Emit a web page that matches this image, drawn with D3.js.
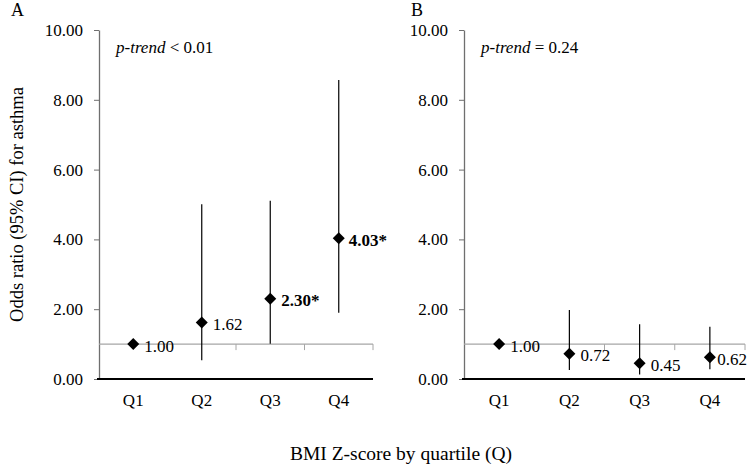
<!DOCTYPE html>
<html>
<head>
<meta charset="utf-8">
<script src="https://cdn.jsdelivr.net/npm/d3@7"></script>
<style>
  body { margin: 0; background: #fff; }
  svg { display: block; font-family: "Liberation Serif", "Times New Roman", serif; }
</style>
</head>
<body>
<div id="chart"></div>
<script>
// values
const quartiles = ["Q1", "Q2", "Q3", "Q4"];
const yTicks = [0, 2, 4, 6, 8, 10];

const orA = [1.00, 1.62, 2.30, 4.03];
const lowA = [1.00, 0.54, 1.01, 1.90];
const highA = [1.00, 5.01, 5.11, 8.57];
const labelsA = ["1.00", "1.62", "2.30*", "4.03*"];
const boldA = [false, false, true, true];

const orB = [1.00, 0.72, 0.45, 0.62];
const lowB = [1.00, 0.26, 0.13, 0.28];
const highB = [1.00, 1.98, 1.57, 1.50];
const labelsB = ["1.00", "0.72", "0.45", "0.62"];
const boldB = [false, false, false, false];

const panelNames = ["A", "B"];
const pTrends = ["< 0.01", "= 0.24"];

const width = 748, height = 465;
const svg = d3.select("#chart").append("svg")
    .attr("width", width)
    .attr("height", height);

const y = d3.scaleLinear().domain([0, 10]).range([379, 30]);

function drawPanel(opts) {
    const g = svg.append("g");
    const x = d3.scaleBand().domain(quartiles).range([opts.left, opts.right]);
    const rows = quartiles.map((q, i) => ({
        q: q, or: opts.or[i], lo: opts.low[i], hi: opts.high[i],
        label: opts.labels[i], bold: opts.bold[i]
    }));

    // panel letter
    g.append("text")
        .attr("x", opts.letterX).attr("y", 16)
        .style("font-size", "18px")
        .text(opts.name);

    // y axis
    const yAxis = g.append("g")
        .attr("transform", `translate(${opts.left},0)`)
        .call(d3.axisLeft(y).tickValues(yTicks).tickFormat(d3.format(".2f"))
            .tickSize(5).tickSizeOuter(0).tickPadding(11));
    yAxis.attr("font-family", null);
    yAxis.select(".domain").attr("stroke", "#6f6f6f").attr("stroke-width", 1.3);
    yAxis.selectAll(".tick line").attr("stroke", "#6f6f6f");
    yAxis.selectAll(".tick text")
        .attr("fill", "#000")
        .style("font-size", "17px");

    // reference line at OR = 1 with category ticks
    g.append("line")
        .attr("x1", opts.left).attr("x2", opts.right)
        .attr("y1", y(1)).attr("y2", y(1))
        .attr("stroke", "#a6a6a6").attr("stroke-width", 1.3);
    g.selectAll(".cattick").data(quartiles).enter().append("line")
        .attr("class", "cattick")
        .attr("x1", d => x(d) + x.bandwidth()).attr("x2", d => x(d) + x.bandwidth())
        .attr("y1", y(1)).attr("y2", y(1) + 6)
        .attr("stroke", "#a6a6a6").attr("stroke-width", 1);

    // bottom line at 0
    g.append("line")
        .attr("x1", opts.left - 2).attr("x2", opts.right)
        .attr("y1", y(0)).attr("y2", y(0))
        .attr("stroke", "#000").attr("stroke-width", 2);

    // category labels
    g.selectAll(".qlab").data(quartiles).enter().append("text")
        .attr("class", "qlab")
        .attr("x", d => x(d) + x.bandwidth() / 2)
        .attr("y", 406)
        .attr("text-anchor", "middle")
        .style("font-size", "17px")
        .text(d => d);

    // CI lines
    g.selectAll(".ci").data(rows.filter(d => d.hi > d.lo)).enter().append("line")
        .attr("class", "ci")
        .attr("x1", d => x(d.q) + x.bandwidth() / 2).attr("x2", d => x(d.q) + x.bandwidth() / 2)
        .attr("y1", d => y(d.lo)).attr("y2", d => y(d.hi))
        .attr("stroke", "#000").attr("stroke-width", 1.2);

    // diamonds
    g.selectAll(".pt").data(rows).enter().append("path")
        .attr("class", "pt")
        .attr("d", d3.symbol().type(d3.symbolSquare).size(72))
        .attr("transform", d => `translate(${x(d.q) + x.bandwidth() / 2},${y(d.or)}) rotate(45)`)
        .attr("fill", "#000");

    // value labels, kept inside the chart area like the original
    g.selectAll(".vlab").data(rows).enter().append("text")
        .attr("class", "vlab")
        .attr("y", d => y(d.or) + 2)
        .attr("dominant-baseline", "central")
        .style("font-size", "17px")
        .style("font-weight", d => d.bold ? "bold" : "normal")
        .text(d => d.label)
        .attr("x", function(d) {
            const w = this.getComputedTextLength();
            return Math.min(x(d.q) + x.bandwidth() / 2 + 11, opts.areaRight - w - 1);
        });

    // p-trend note
    const note = g.append("text")
        .attr("x", opts.left + 17).attr("y", 53)
        .style("font-size", "17px");
    note.append("tspan").style("font-style", "italic").text("p-trend");
    note.append("tspan").text(" " + opts.pTrend);
}

drawPanel({ name: panelNames[0], letterX: 11, left: 99, right: 373, areaRight: 388,
    or: orA, low: lowA, high: highA, labels: labelsA, bold: boldA, pTrend: pTrends[0] });
drawPanel({ name: panelNames[1], letterX: 411, left: 464, right: 745, areaRight: 748,
    or: orB, low: lowB, high: highB, labels: labelsB, bold: boldB, pTrend: pTrends[1] });

// shared axis titles
svg.append("text")
    .attr("transform", `translate(23,${y(5)}) rotate(-90)`)
    .attr("text-anchor", "middle")
    .style("font-size", "18.5px")
    .text("Odds ratio (95% CI) for asthma");

svg.append("text")
    .attr("x", 401).attr("y", 460)
    .attr("text-anchor", "middle")
    .style("font-size", "19.5px")
    .text("BMI Z-score by quartile (Q)");
</script>
</body>
</html>
